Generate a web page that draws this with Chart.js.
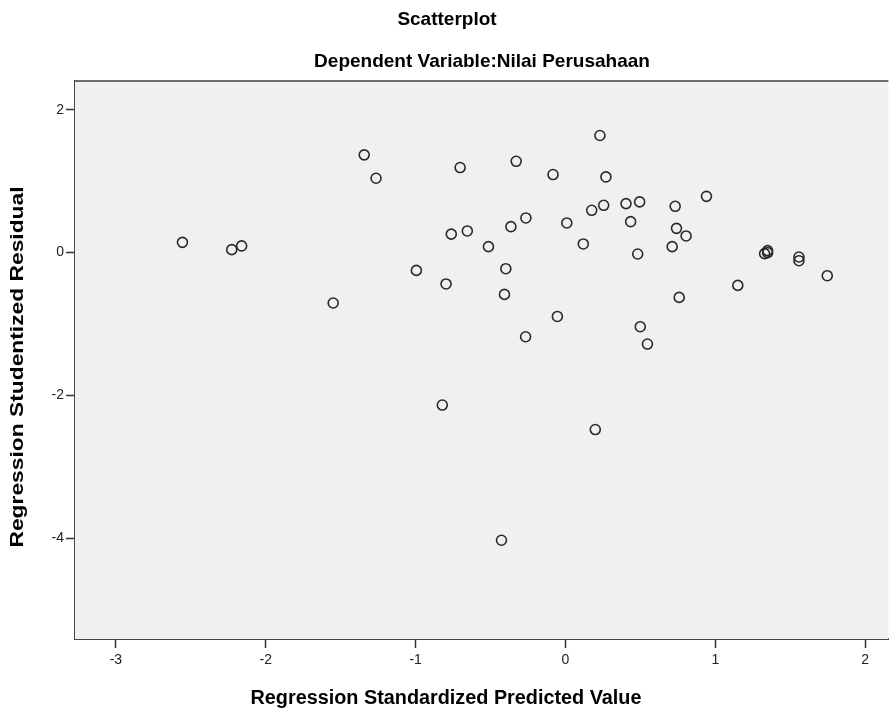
<!DOCTYPE html>
<html>
<head>
<meta charset="utf-8">
<title>Scatterplot</title>
<script src="https://cdn.jsdelivr.net/npm/chart.js@4.4.0/dist/chart.umd.min.js"></script>
<style>
    html, body { margin: 0; padding: 0; background: #ffffff; }
    #wrap { position: relative; width: 895px; height: 708px; }
</style>
</head>
<body>
<div id="wrap"><canvas id="scatterChart" width="895" height="708"></canvas></div>
<script>
// Regression Standardized Predicted Value (x) vs Regression Studentized Residual (y)
const predictedValues = [
    -2.556, -2.227, -2.161, -1.550, -1.343, -1.264, -0.995, -0.797, -0.822, -0.762,
    -0.703, -0.655, -0.514, -0.398, -0.407, -0.364, -0.329, -0.264, -0.266, -0.427,
    -0.083, -0.054, 0.009, 0.119, 0.175, 0.230, 0.255, 0.270, 0.199, 0.404,
    0.435, 0.482, 0.495, 0.499, 0.547, 0.712, 0.732, 0.741, 0.759, 0.805,
    0.941, 1.150, 1.329, 1.349, 1.349, 1.558, 1.558, 1.747
];
const studentizedResiduals = [
    0.143, 0.041, 0.093, -0.707, 1.369, 1.041, -0.250, -0.440, -2.137, 0.258,
    1.191, 0.303, 0.083, -0.226, -0.586, 0.363, 1.279, 0.485, -1.180, -4.031,
    1.093, -0.895, 0.415, 0.121, 0.592, 1.640, 0.662, 1.060, -2.480, 0.686,
    0.433, -0.020, 0.710, -1.039, -1.282, 0.083, 0.648, 0.339, -0.628, 0.233,
    0.788, -0.460, -0.015, 0.027, -0.001, -0.062, -0.114, -0.324
];
const xTicks = [-3, -2, -1, 0, 1, 2];
const yTicks = [-4, -2, 0, 2];

const chartTitle = 'Scatterplot';
const chartSubtitle = 'Dependent Variable:Nilai Perusahaan';
const xTitle = 'Regression Standardized Predicted Value';
const yTitle = 'Regression Studentized Residual';

const points = predictedValues.map((x, i) => ({ x: x, y: studentizedResiduals[i] }));

// grey plot area, top frame line and all the titles
const frameAndTitles = {
    id: 'frameAndTitles',
    beforeDatasetsDraw(chart) {
        const { ctx, chartArea } = chart;
        ctx.save();
        ctx.fillStyle = '#f0f0f0';
        ctx.fillRect(chartArea.left, chartArea.top, chartArea.right - chartArea.left, chartArea.bottom - chartArea.top);
        ctx.strokeStyle = '#6e6e6e';
        ctx.lineWidth = 2;
        ctx.beginPath();
        ctx.moveTo(chartArea.left, chartArea.top);
        ctx.lineTo(chartArea.right, chartArea.top);
        ctx.stroke();
        ctx.restore();
    },
    afterDraw(chart) {
        const { ctx } = chart;
        ctx.save();
        ctx.fillStyle = '#000000';
        ctx.textAlign = 'center';
        ctx.textBaseline = 'middle';

        ctx.font = 'bold 19px "Liberation Sans", Arial, sans-serif';
        ctx.fillText(chartTitle, 447, 20);
        ctx.fillText(chartSubtitle, 482, 62);

        ctx.font = 'bold 20px "Liberation Sans", Arial, sans-serif';
        ctx.fillText(xTitle, 446, 698, 391);

        // the vertical title is drawn a bit stretched along its length, as in the source
        ctx.font = 'bold 19px "Liberation Sans", Arial, sans-serif';
        ctx.translate(18, 367);
        ctx.rotate(-Math.PI / 2);
        ctx.scale(1.2, 1);
        ctx.fillText(yTitle, 0, 0);
        ctx.restore();
    }
};

const config = {
    type: 'scatter',
    data: {
        datasets: [{
            label: 'Residuals',
            data: points,
            pointStyle: 'circle',
            pointRadius: 5,
            pointHoverRadius: 5,
            backgroundColor: 'rgba(0,0,0,0)',
            borderColor: '#2a2a2a',
            borderWidth: 1.6
        }]
    },
    options: {
        responsive: false,
        animation: false,
        layout: {
            padding: { top: 81, right: 0, bottom: 39, left: 45 }
        },
        plugins: {
            legend: { display: false },
            tooltip: { enabled: false }
        },
        scales: {
            x: {
                type: 'linear',
                min: -3.273,
                max: 2.155,
                afterBuildTicks: scale => { scale.ticks = xTicks.map(v => ({ value: v })); },
                afterFit: scale => { scale.height = 30; },
                grid: {
                    drawOnChartArea: false,
                    drawTicks: true,
                    tickLength: 9,
                    tickWidth: 1.5,
                    tickColor: '#333333'
                },
                border: { display: true, color: '#444444', width: 2 },
                ticks: {
                    padding: 4,
                    color: '#222222',
                    font: { family: '"Liberation Sans", Arial, sans-serif', size: 14 },
                    callback: v => String(v)
                }
            },
            y: {
                type: 'linear',
                min: -5.415,
                max: 2.404,
                afterBuildTicks: scale => { scale.ticks = yTicks.map(v => ({ value: v })); },
                afterFit: scale => { scale.width = 30; },
                grid: {
                    drawOnChartArea: false,
                    drawTicks: true,
                    tickLength: 9,
                    tickWidth: 1.5,
                    tickColor: '#333333'
                },
                border: { display: true, color: '#444444', width: 2 },
                ticks: {
                    padding: 2,
                    color: '#222222',
                    font: { family: '"Liberation Sans", Arial, sans-serif', size: 14 },
                    callback: v => String(v)
                }
            }
        }
    },
    plugins: [frameAndTitles]
};

const scatterChart = new Chart(document.getElementById('scatterChart'), config);
</script>
</body>
</html>
